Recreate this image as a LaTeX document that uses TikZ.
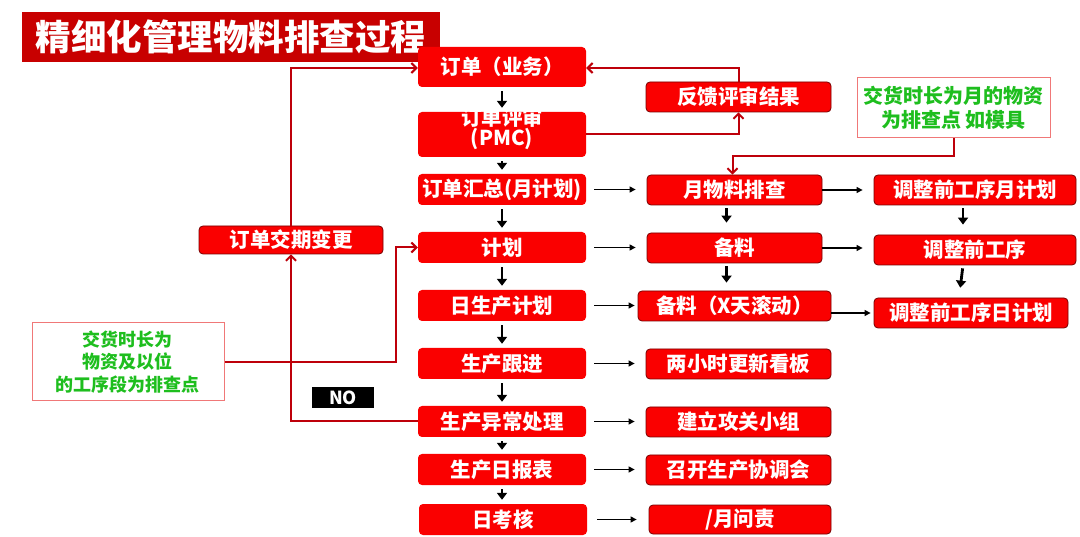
\documentclass[tikz,border=0pt]{standalone}
\usepackage{fontspec}
\newfontfamily\cjk{Noto Sans CJK SC}
\usetikzlibrary{arrows.meta,calc}
\definecolor{boxred}{RGB}{250,0,0}
\definecolor{linered}{RGB}{190,0,10}
\definecolor{edgered}{RGB}{120,0,0}
\definecolor{titlered}{RGB}{200,0,0}
\definecolor{txtgreen}{RGB}{30,190,30}
\definecolor{pinkedge}{RGB}{240,120,120}
\begin{document}
\begin{tikzpicture}[x=1pt,y=-1pt,
  box/.style={rectangle,rounded corners=4pt,fill=boxred,text=white,inner sep=0pt,
    font=\cjk\bfseries\fontsize{20.5}{22}\selectfont,align=center},
  ebox/.style={box,draw=edgered,line width=0.8pt},
  gbox/.style={rectangle,draw=pinkedge,line width=1pt,fill=white,text=txtgreen,inner sep=0pt,align=center},
  varrow/.style={black,line width=2.8pt,-{Triangle[length=7pt,width=10pt]}},
  harrow/.style={black,line width=1.3pt,-{Triangle[length=6pt,width=6pt]}},
  rline/.style={linered,line width=2pt},
  rarrow/.style={rline,-{Straight Barb[length=5pt,width=10pt]}}]
\useasboundingbox[fill=white] (0,0) rectangle (1080,537);

% title
\node[rectangle,fill=titlered,text=white,minimum width=418,minimum height=50,inner sep=0pt,
  font=\cjk\bfseries\fontsize{35.5}{38}\selectfont] (title) at (231,37) {精细化管理物料排查过程};

% column 1
\node[box,minimum width=168,minimum height=40] (a1) at (502,67) {订单（业务）};
\node[box,minimum width=168,minimum height=45] (a2) at (502,134.5) {};
\node[text=white,font=\cjk\bfseries\fontsize{20.5}{18}\selectfont,align=center,inner sep=0pt] (a2t) at (502,129) {订单评审\\(PMC)};
\node[box,minimum width=168,minimum height=31] (a3) at (502,189.5) {订单汇总(月计划)};
\node[box,minimum width=168,minimum height=31] (a4) at (502,247.5) {计划};
\node[box,minimum width=168,minimum height=31] (a5) at (502,305.5) {日生产计划};
\node[box,minimum width=168,minimum height=31] (a6) at (502,363.5) {生产跟进};
\node[box,minimum width=168,minimum height=31] (a7) at (502,421.5) {生产异常处理};
\node[box,minimum width=168,minimum height=31] (a8) at (502,469.5) {生产日报表};
\node[box,minimum width=168,minimum height=31] (a9) at (503,519.5) {日考核};

% column 2
\node[ebox,minimum width=185,minimum height=30] (b0) at (738.5,97) {反馈评审结果};
\node[ebox,minimum width=175,minimum height=30] (b1) at (734.5,190) {月物料排查};
\node[ebox,minimum width=175,minimum height=30] (b2) at (734.5,248) {备料};
\node[ebox,minimum width=193,minimum height=30] (b3) at (734.5,306) {备料（X天滚动）};
\node[ebox,minimum width=185,minimum height=30] (b4) at (738.5,364) {两小时更新看板};
\node[ebox,minimum width=185,minimum height=30] (b5) at (738.5,422) {建立攻关小组};
\node[ebox,minimum width=185,minimum height=30] (b6) at (738.5,470) {召开生产协调会};
\node[ebox,minimum width=182,minimum height=29] (b7) at (740,519.5) {/月问责};

% column 3
\node[ebox,minimum width=202,minimum height=30] (c1) at (975,190) {调整前工序月计划};
\node[ebox,minimum width=202,minimum height=30] (c2) at (975,250) {调整前工序};
\node[ebox,minimum width=194,minimum height=30] (c3) at (971,313) {调整前工序日计划};

% others
\node[ebox,minimum width=184,minimum height=28] (d) at (291,240) {订单交期变更};
\node[gbox,minimum width=193,minimum height=60,font=\cjk\bfseries\fontsize{20}{24}\selectfont] (g1) at (953.5,108) {交货时长为月的物资\\为排查点 如模具};
\node[gbox,minimum width=192,minimum height=78,font=\cjk\bfseries\fontsize{18}{22.5}\selectfont] (g2) at (128,362) {交货时长为\\物资及以位\\的工序段为排查点};
\node[rectangle,fill=black,text=white,minimum width=62,minimum height=21,inner sep=0pt,
  font=\cjk\bfseries\fontsize{18}{20}\selectfont] (no) at (343,397.5) {NO};

% black vertical arrows, column 1
\foreach \u/\v in {a1/a2,a2/a3,a3/a4,a4/a5,a5/a6,a6/a7,a7/a8,a8/a9}
  \draw[varrow,shorten <=4pt,shorten >=4pt] (\u.south) -- (\u.south |- \v.north);
% column 2 and 3
\draw[varrow,shorten <=3pt,shorten >=10pt] ($(b1.south)+(-8,0)$) -- ($(b2.north)+(-8,0)$);
\draw[varrow,shorten <=3pt,shorten >=8pt] ($(b2.south)+(-8,0)$) -- ($(b3.north)+(-8,0)$);
\draw[varrow,shorten <=3pt,shorten >=10pt] ($(c1.south)+(-12,0)$) -- ($(c2.north)+(-12,0)$);
\draw[varrow,shorten <=3pt,shorten >=10pt] ($(c2.south)+(-12,0)$) -- ($(c3.north)+(-12,0)$);

% black horizontal arrows
\draw[harrow,shorten <=8pt,shorten >=11pt] (a3.east) -- (a3.east -| b1.west);
\draw[harrow,shorten <=8pt,shorten >=11pt] (a4.east) -- (a4.east -| b2.west);
\draw[harrow,shorten <=8pt,shorten >=3pt] (a5.east) -- (a5.east -| b3.west);
\draw[harrow,shorten <=8pt,shorten >=11pt] (a6.east) -- (a6.east -| b4.west);
\draw[harrow,shorten <=8pt,shorten >=11pt] (a7.east) -- (a7.east -| b5.west);
\draw[harrow,shorten <=8pt,shorten >=11pt] (a8.east) -- (a8.east -| b6.west);
\draw[harrow,shorten <=10pt,shorten >=12pt] (a9.east) -- (a9.east -| b7.west);
\draw[harrow,shorten >=11pt] (b1.east) -- (b1.east -| c1.west);
\draw[harrow,shorten >=11pt] (b2.east) -- (b2.east -| c2.west);
\draw[harrow,shorten >=3pt] (b3.east |- c3.west) -- (c3.west);

% red connectors
\draw[rarrow] (g1.south) -- ++(0,18) -| ($(b1.north)+(-2,0)$);
\draw[rarrow] (a2.east) -| (b0.south);
\draw[rarrow] (b0.north) |- ($(a1.east)+(0,1)$);
\draw[rarrow] (a7.west) -| (d.south);
\draw[rarrow] (d.north) |- ($(a1.west)+(0,1)$);
\coordinate (k) at (396,362);
\draw[rarrow] (g2.east) -- (k) |- (a4.west);
\end{tikzpicture}
\end{document}
